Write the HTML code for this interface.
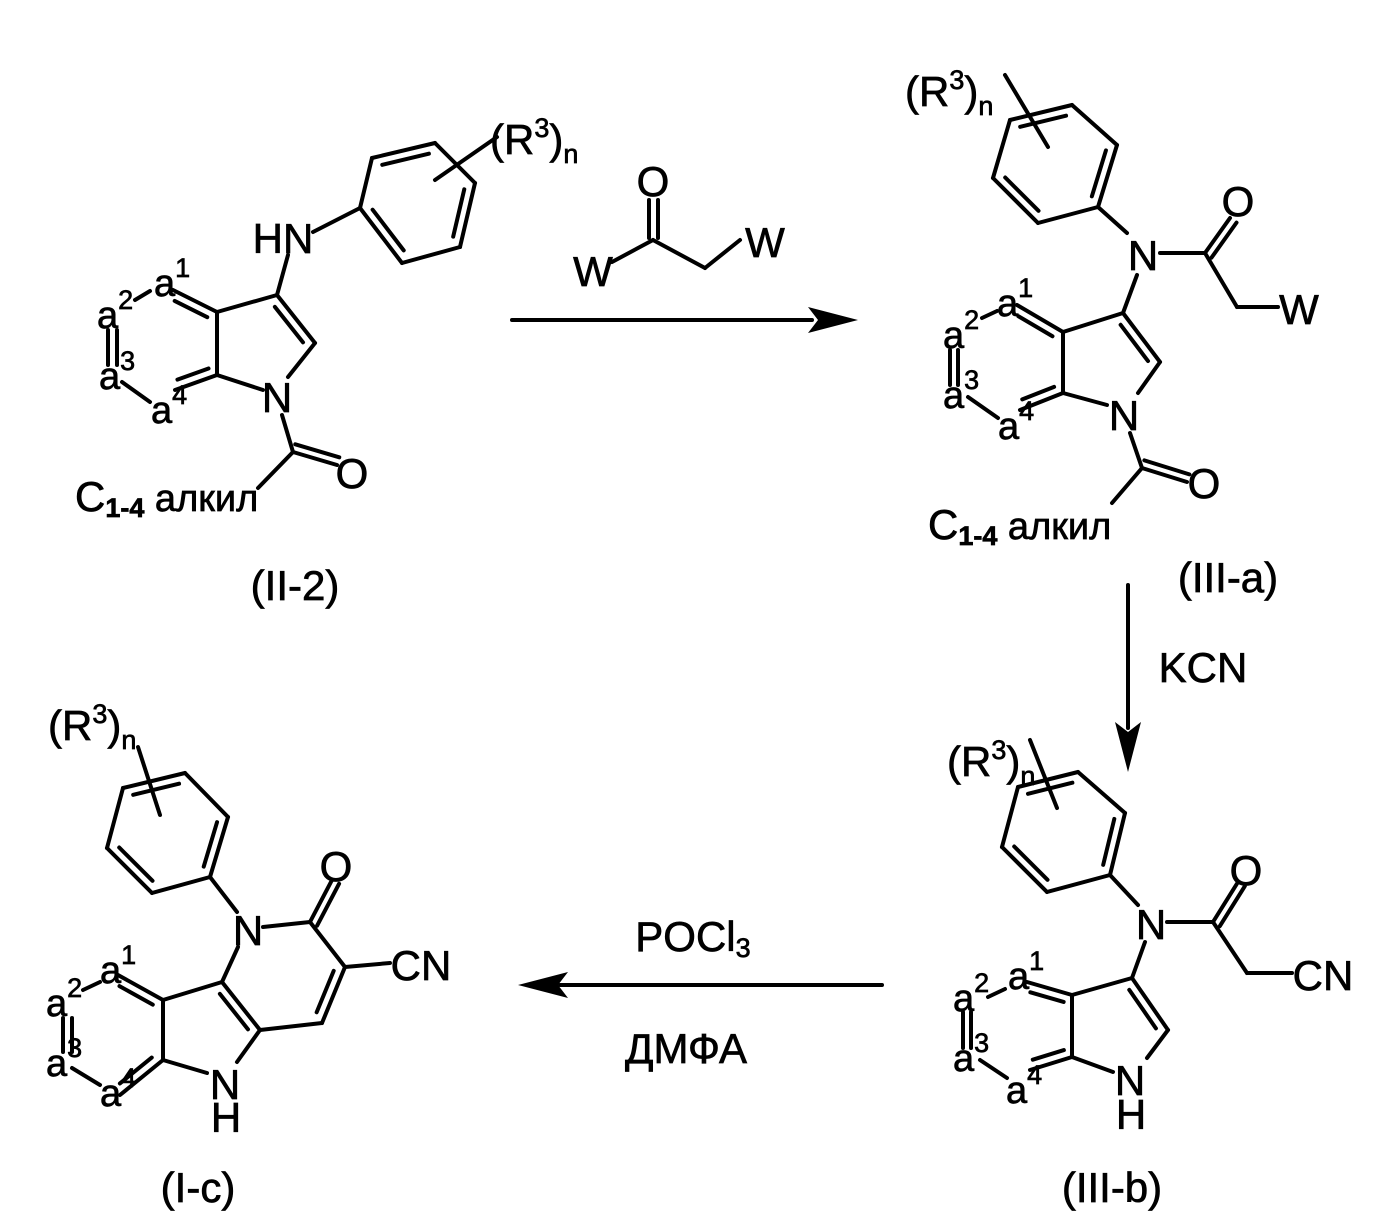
<!DOCTYPE html>
<html><head><meta charset="utf-8"><style>
html,body{margin:0;padding:0;background:#fff}
svg{display:block}
text{font-family:"Liberation Sans",Arial,sans-serif;fill:#000;stroke:#000;stroke-width:0.7px}
.t{font-size:42px}
.s{font-size:27px}
.a{font-size:38px}
</style></head><body>
<svg id="g" width="1395" height="1223" viewBox="0 0 1395 1223" xmlns="http://www.w3.org/2000/svg">
<g id="b" stroke="#000" stroke-width="4" stroke-linecap="round" fill="none"></g>
<g fill="#000">
<polygon points="858,320 808,307 818,320 808,333"/>
<polygon points="1128,772 1115,722 1128,732 1141,722"/>
<polygon points="518,985 568,972 558,985 568,998"/>
</g>
<!-- II-2 -->
<text class="t" x="490" y="154">(R<tspan class="s" dy="-17">3</tspan><tspan dy="17">)</tspan><tspan class="s" dy="9">n</tspan></text>
<text class="t" x="283" y="253" text-anchor="middle">HN</text>
<text class="t" x="277" y="412" text-anchor="middle">N</text>
<text class="t" x="352" y="488" text-anchor="middle">O</text>
<text class="a" x="154" y="296">a<tspan class="s" dy="-19">1</tspan></text>
<text class="a" x="97" y="328">a<tspan class="s" dy="-19">2</tspan></text>
<text class="a" x="99" y="389">a<tspan class="s" dy="-19">3</tspan></text>
<text class="a" x="151" y="423">a<tspan class="s" dy="-19">4</tspan></text>
<text class="t" x="75" y="511">C<tspan class="s" font-weight="bold" dy="6">1-4</tspan><tspan class="a" dy="-6"> алкил</tspan></text>
<text class="t" x="295" y="600" text-anchor="middle">(II-2)</text>
<!-- reagent -->
<text class="t" x="653" y="196" text-anchor="middle">O</text>
<text class="t" x="593" y="286" text-anchor="middle">W</text>
<text class="t" x="765" y="257" text-anchor="middle">W</text>
<!-- III-a -->
<text class="t" x="905" y="106">(R<tspan class="s" dy="-17">3</tspan><tspan dy="17">)</tspan><tspan class="s" dy="9">n</tspan></text>
<text class="t" x="1143" y="270" text-anchor="middle">N</text>
<text class="t" x="1238" y="216" text-anchor="middle">O</text>
<text class="t" x="1299" y="324" text-anchor="middle">W</text>
<text class="t" x="1124" y="430" text-anchor="middle">N</text>
<text class="t" x="1204" y="498" text-anchor="middle">O</text>
<text class="a" x="997" y="316">a<tspan class="s" dy="-19">1</tspan></text>
<text class="a" x="943" y="348">a<tspan class="s" dy="-19">2</tspan></text>
<text class="a" x="943" y="408">a<tspan class="s" dy="-19">3</tspan></text>
<text class="a" x="998" y="439">a<tspan class="s" dy="-19">4</tspan></text>
<text class="t" x="928" y="539">C<tspan class="s" font-weight="bold" dy="6">1-4</tspan><tspan class="a" dy="-6"> алкил</tspan></text>
<text class="t" x="1228" y="592" text-anchor="middle">(III-a)</text>
<text class="t" x="1203" y="682" text-anchor="middle">KCN</text>
<!-- III-b -->
<text class="t" x="947" y="776">(R<tspan class="s" dy="-17">3</tspan><tspan dy="17">)</tspan><tspan class="s" dy="9">n</tspan></text>
<text class="t" x="1151" y="939" text-anchor="middle">N</text>
<text class="t" x="1246" y="885" text-anchor="middle">O</text>
<text class="t" x="1323" y="990" text-anchor="middle">CN</text>
<text class="t" x="1130" y="1095" text-anchor="middle">N</text>
<text class="t" x="1131" y="1129" text-anchor="middle">H</text>
<text class="a" x="1008" y="989">a<tspan class="s" dy="-19">1</tspan></text>
<text class="a" x="953" y="1011">a<tspan class="s" dy="-19">2</tspan></text>
<text class="a" x="953" y="1071">a<tspan class="s" dy="-19">3</tspan></text>
<text class="a" x="1006" y="1103">a<tspan class="s" dy="-19">4</tspan></text>
<text class="t" x="1112" y="1202" text-anchor="middle">(III-b)</text>
<!-- arrow3 labels -->
<text class="t" x="693" y="951" text-anchor="middle">POCl<tspan class="s" dy="6">3</tspan></text>
<text class="t" x="686" y="1063" text-anchor="middle">ДМФА</text>
<!-- I-c -->
<text class="t" x="48" y="740">(R<tspan class="s" dy="-17">3</tspan><tspan dy="17">)</tspan><tspan class="s" dy="9">n</tspan></text>
<text class="t" x="248" y="945" text-anchor="middle">N</text>
<text class="t" x="336" y="881" text-anchor="middle">O</text>
<text class="t" x="421" y="980" text-anchor="middle">CN</text>
<text class="t" x="225" y="1099" text-anchor="middle">N</text>
<text class="t" x="226" y="1132" text-anchor="middle">H</text>
<text class="a" x="100" y="983">a<tspan class="s" dy="-19">1</tspan></text>
<text class="a" x="46" y="1016">a<tspan class="s" dy="-19">2</tspan></text>
<text class="a" x="46" y="1076">a<tspan class="s" dy="-19">3</tspan></text>
<text class="a" x="100" y="1106">a<tspan class="s" dy="-19">4</tspan></text>
<text class="t" x="198" y="1202" text-anchor="middle">(I-c)</text>
</svg>
<script>
var G=document.getElementById('b'),NS="http://www.w3.org/2000/svg";
function L(a,b,c,d){var l=document.createElementNS(NS,'line');l.setAttribute('x1',a);l.setAttribute('y1',b);l.setAttribute('x2',c);l.setAttribute('y2',d);G.appendChild(l);}
function D(x1,y1,x2,y2,cx,cy){L(x1,y1,x2,y2);var dx=x2-x1,dy=y2-y1,len=Math.hypot(dx,dy),nx=-dy/len,ny=dx/len;
 var mx=(x1+x2)/2,my=(y1+y2)/2;if((cx-mx)*nx+(cy-my)*ny<0){nx=-nx;ny=-ny;}
 var o=9,s=0.13;L(x1+dx*s+nx*o,y1+dy*s+ny*o,x2-dx*s+nx*o,y2-dy*s+ny*o);}
function DS(x1,y1,x2,y2,cx,cy){var dx=x2-x1,dy=y2-y1,len=Math.hypot(dx,dy),nx=-dy/len,ny=dx/len;
 var mx=(x1+x2)/2,my=(y1+y2)/2;if((cx-mx)*nx+(cy-my)*ny<0){nx=-nx;ny=-ny;}
 L(x1,y1,x2,y2);L(x1+nx*8,y1+ny*8,x2+nx*8,y2+ny*8);}
function ring(p,c,dbl){for(var i=0;i<6;i++){var a=p[i],b=p[(i+1)%6];if(dbl.indexOf(i)>=0)D(a[0],a[1],b[0],b[1],c[0],c[1]);else L(a[0],a[1],b[0],b[1]);}}
L(512,320,812,320);L(1128,585,1128,728);L(560,985,882,985);
ring([[372,158],[435,143],[475,183],[460,247],[402,263],[360,208]],[417,200],[0,2,4]);
L(435,180,497,137);L(313,232,360,208);L(288,255,277,295);
L(277,295,217,312);L(217,312,217,375);L(217,375,263,390);L(288,377,315,343);D(277,295,315,343,260,343);
D(173,290,217,312,165,342);D(175,390,217,375,165,342);L(135,300,150,291);L(108,330,108,365);L(117,330,117,365);L(122,382,150,402);
L(282,415,293,452);DS(293,452,337,465,320,430);L(293,452,258,488);
L(649,200,649,238);L(658,200,658,238);L(612,262,653,240);L(653,240,705,268);L(705,268,740,240);
ring([[1010,120],[1072,105],[1117,145],[1098,207],[1038,223],[993,178]],[1055,163],[0,2,4]);
L(1005,75,1048,147);L(1127,233,1098,207);L(1160,253,1205,253);DS(1205,253,1230,218,1250,250);L(1205,253,1237,307);L(1237,307,1278,307);
L(1137,275,1123,313);L(1123,313,1063,332);L(1063,332,1063,393);L(1063,393,1107,405);L(1138,393,1160,362);D(1123,313,1160,362,1105,362);
D(1017,305,1063,332,1010,362);D(1020,410,1063,393,1010,362);L(982,318,997,311);L(950,350,950,385);L(958,350,958,385);L(968,397,998,418);
L(1130,433,1142,468);DS(1142,468,1187,482,1170,440);L(1142,468,1112,503);
ring([[1018,787],[1078,772],[1125,813],[1110,875],[1047,892],[1002,847]],[1063,831],[0,2,4]);
L(1030,740,1057,808);L(1138,905,1110,875);L(1167,922,1213,922);DS(1213,922,1238,882,1260,920);L(1213,922,1247,973);L(1247,973,1292,973);
L(1145,942,1132,978);L(1132,978,1072,995);L(1072,995,1072,1057);L(1072,1057,1113,1072);L(1147,1058,1168,1030);D(1132,978,1168,1030,1115,1027);
D(1027,982,1072,995,1020,1027);D(1030,1070,1072,1057,1020,1027);L(988,997,1005,989);L(963,1012,963,1048);L(971,1012,971,1048);L(980,1060,1007,1078);
ring([[123,788],[185,773],[228,817],[210,877],[152,893],[107,848]],[168,833],[0,2,4]);
L(138,747,160,815);L(237,912,210,877);L(263,927,310,922);DS(310,922,332,880,350,920);L(310,922,345,967);L(345,967,390,963);
D(345,967,322,1023,285,975);L(322,1023,260,1030);L(238,947,222,982);D(222,982,260,1030,210,1030);
L(222,982,163,1000);L(163,1000,163,1060);L(163,1060,207,1073);L(237,1062,260,1030);
D(118,975,163,1000,110,1030);D(120,1095,163,1060,110,1030);L(83,990,100,982);L(63,1018,63,1052);L(72,1018,72,1052);L(72,1068,100,1085);
</script>
</body></html>
